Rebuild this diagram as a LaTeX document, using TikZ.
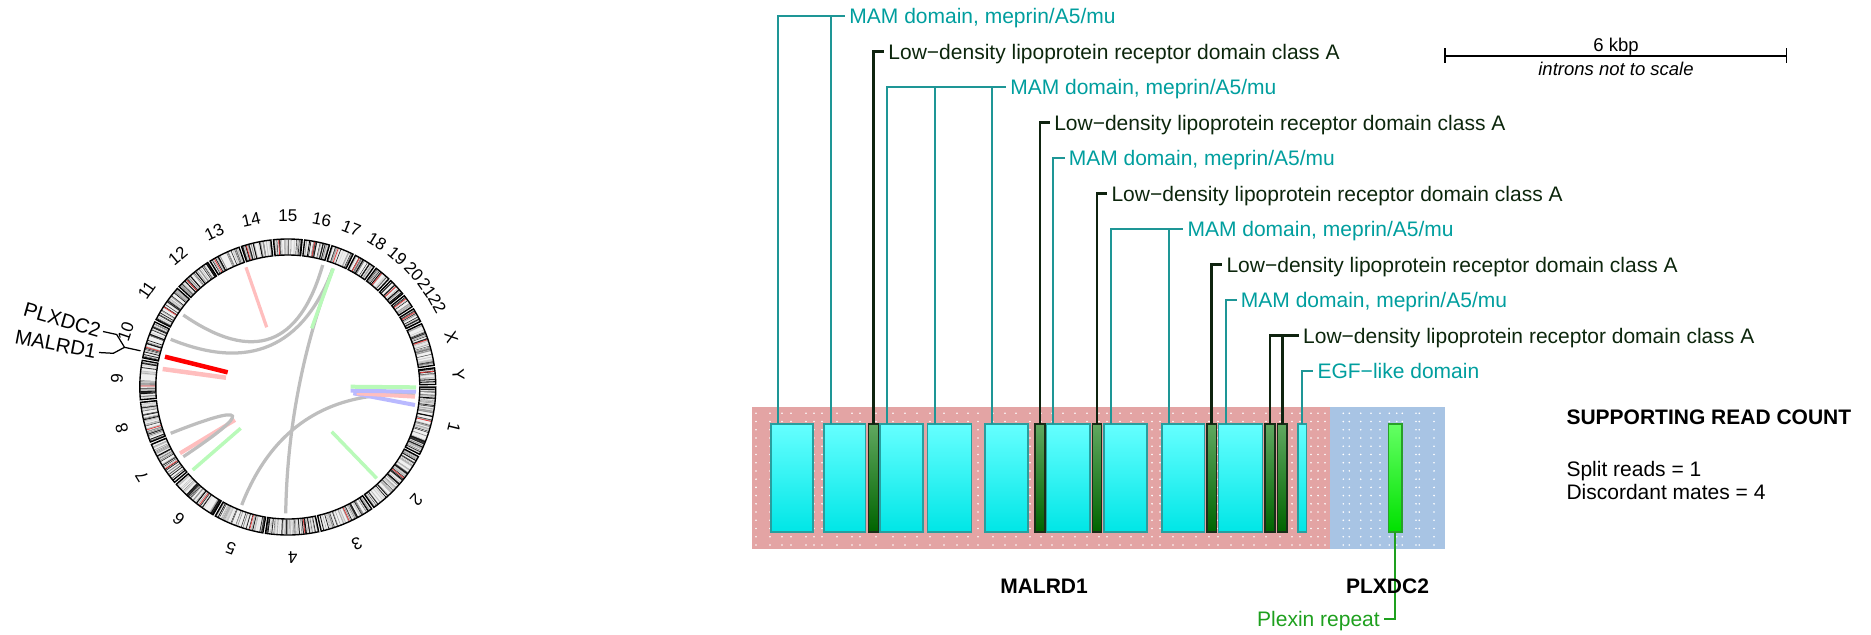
\documentclass[tikz,border=0pt]{standalone}
\usepackage{fontspec}
\setmainfont{Liberation Sans}
\usetikzlibrary{calc}
\definecolor{tealtxt}{RGB}{0,158,158}
\definecolor{tealln}{RGB}{30,150,150}
\definecolor{darktxt}{RGB}{12,38,12}
\definecolor{darkln}{RGB}{15,35,15}
\definecolor{bandpink}{RGB}{227,164,164}
\definecolor{bandblue}{RGB}{168,196,228}
\definecolor{cyantop}{RGB}{102,255,255}
\definecolor{cyanbot}{RGB}{0,230,230}
\definecolor{cyanbd}{RGB}{40,158,158}
\definecolor{dgtop}{RGB}{96,168,96}
\definecolor{dgbot}{RGB}{0,100,0}
\definecolor{dgbd}{RGB}{25,45,25}
\definecolor{bgtop}{RGB}{100,255,100}
\definecolor{bgbot}{RGB}{0,225,0}
\definecolor{bgbd}{RGB}{40,160,40}
\definecolor{plexgreen}{RGB}{30,160,30}
\definecolor{lnkgray}{RGB}{190,190,190}
\definecolor{lnkpink}{RGB}{255,190,190}
\definecolor{lnkgreen}{RGB}{185,250,185}
\definecolor{lnkblue}{RGB}{185,185,255}
\definecolor{acen}{RGB}{230,60,60}
\tikzset{
  lbl/.style={font=\fontsize{8.4}{10}\selectfont, inner xsep=1.5pt, inner ysep=0pt,
    text height=7.73pt, text depth=1.68pt, anchor=west},
  mamlbl/.style={lbl, text=tealtxt},
  ldllbl/.style={lbl, text=darktxt},
  tl/.style={draw=tealln, line width=0.8pt},
  dl/.style={draw=darkln, line width=0.9pt},
  boxbase/.style={inner sep=0pt, outer sep=0pt, minimum height=43.08pt, line width=0.65pt},
  cbox/.style={boxbase, draw=cyanbd, top color=cyantop, bottom color=cyanbot},
  dbox/.style={boxbase, draw=dgbd, top color=dgtop, bottom color=dgbot},
  gbox/.style={boxbase, draw=bgbd, top color=bgtop, bottom color=bgbot},
  boldtxt/.style={font=\bfseries\fontsize{8.4}{10}\selectfont, inner sep=0pt},
  plaintxt/.style={font=\fontsize{8.4}{10}\selectfont, inner sep=0pt},
  smalltxt/.style={font=\fontsize{7.4}{9}\selectfont, inner sep=0pt},
  chrlbl/.style={font=\fontsize{6.8}{8}\selectfont, inner sep=0pt},
  genelbl/.style={font=\fontsize{8.1}{9}\selectfont, inner sep=1pt},
  glink/.style={draw=lnkgray, line width=1.3pt},
}
\newcommand\gbx[4]{\node[#1, minimum width={(#4-#3)*0.4pt}] (#2) at ({(#3+#4)/2},477.85) {};}
\newcommand\qlink[2]{\draw[glink] (#1) .. controls ($(#1)!0.6667!(ctr)$) and ($(#2)!0.6667!(ctr)$) .. (#2);}
\begin{document}
\begin{tikzpicture}[x=0.4pt, y=-0.4pt]
\useasboundingbox (0,0) rectangle (1871,634);

% ---------------- circos ideogram ----------------
\pgfmathsetseed{12}
\begin{scope}[shift={(287.8,387)}, x=0.4pt, y=0.4pt]
\foreach \cn/\cst/\cspn/\ccf in {1/0/27.053/0.50, 2/28.053/26.397/0.38, 3/55.450/21.493/0.46,
  4/77.943/20.747/0.26, 5/99.690/19.637/0.27, 6/120.327/18.573/0.35, 7/139.900/17.273/0.37,
  8/158.173/15.886/0.31, 9/175.058/15.327/0.35, 10/191.385/14.710/0.29, 11/207.095/14.654/0.39,
  12/222.749/14.528/0.27, 13/238.277/12.500/0.15, 14/251.778/11.652/0.16, 15/264.429/11.128/0.18,
  16/276.558/9.807/0.40, 17/287.364/8.813/0.30, 18/297.178/8.475/0.22, 19/306.652/6.418/0.45,
  20/314.070/6.841/0.44, 21/321.911/5.224/0.26, 22/328.135/5.568/0.25, X/334.703/16.853/0.39,
  Y/352.556/6.444/0.20}{
  \pgfmathsetmacro\aa{-\cst}
  \pgfmathsetmacro\bb{-\cst-\cspn}
  \fill[black!6] (\aa:132) arc[start angle=\aa, end angle=\bb, radius=52.8pt] -- (\bb:148)
     arc[start angle=\bb, end angle=\aa, radius=59.2pt] -- cycle;
  \pgfmathtruncatemacro\nstr{\cspn*2.4}
  \foreach \j in {1,...,\nstr}{
    \pgfmathsetmacro\ang{-\cst-rnd*\cspn}
    \pgfmathtruncatemacro\gv{rnd<0.42 ? 80+rnd*20 : 10+rnd*35}
    \pgfmathsetmacro\lw{0.12+0.35*rnd}
    \draw[black!\gv, line width=\lw pt] (\ang:132.5) -- (\ang:147.5);
  }
  \pgfmathsetmacro\ra{-\cst-\ccf*\cspn}
  \draw[acen, line width=0.3pt] (\ra:132.5) -- (\ra:147.5);
  \draw[line width=0.55pt] (\aa:132) arc[start angle=\aa, end angle=\bb, radius=52.8pt] -- (\bb:148)
     arc[start angle=\bb, end angle=\aa, radius=59.2pt] -- cycle;
  \pgfmathsetmacro\md{-\cst-\cspn/2}
  \node[chrlbl, rotate=\md-90] (chr\cn) at (\md:171) {\cn};
}
\end{scope}

% ---------------- circos links ----------------
\coordinate (ctr) at (287.8,387);
\coordinate (la1) at (183.3,315);   \coordinate (la2) at (322.7,265);
\coordinate (lb1) at (170.7,339.3); \coordinate (lb2) at (332.7,269.3);
\coordinate (lc1) at (332.7,269.3); \coordinate (lc2) at (285.7,513.3);
\coordinate (ld1) at (241.7,505);   \coordinate (ld2) at (415,395);
\coordinate (le1) at (170.7,433.3); \coordinate (le2) at (183.3,456.7);

\draw[lnkpink, line width=1.6pt] (180,453.3) -- (235,420);
\qlink{la1}{la2}
\qlink{lb1}{lb2}
\qlink{lc1}{lc2}
\qlink{ld1}{ld2}
\qlink{le1}{le2}
\draw[lnkpink, line width=1.3pt] (246,267.3) -- (266.7,327.3);
\draw[lnkpink, line width=1.8pt] (162.7,369) -- (226,377.7);
\draw[red, line width=1.8pt] (165,356.7) -- (227.7,372.3);
\draw[lnkgreen, line width=1.4pt] (333.3,268.3) -- (311.7,328.3);
\draw[lnkgreen, line width=1.4pt] (192.7,470) -- (240.7,428.3);
\draw[lnkgreen, line width=1.4pt] (331.7,431.7) -- (376.7,478.3);
\draw[lnkblue, line width=1.6pt] (353.3,393.3) -- (415,405);
\draw[lnkpink, line width=1.6pt] (356.7,393.3) -- (415,396.7);
\draw[lnkblue, line width=1.6pt] (350.7,390.7) -- (416,391.7);
\draw[lnkgreen, line width=1.6pt] (350.7,386.7) -- (416,387.3);

% gene labels on circos
\coordinate (gp) at (140.5,350.8);
\node[genelbl, anchor=east, rotate=-16] (lp) at (103,331.5) {PLXDC2};
\node[genelbl, anchor=east, rotate=-11] (lm) at (99,352.5) {MALRD1};
\draw[line width=0.5pt] (lp.east) -- (116.7,334.5) -- (124.5,347.3) -- (gp);
\draw[line width=0.5pt] (lm.east) -- (113.3,353.3) -- (124.5,347.3);

% ---------------- gene track ----------------
\fill[bandpink] (751.6,406.8) rectangle (1330,549.3);
\fill[bandblue] (1330,406.8) rectangle (1445,549.3);
\foreach \x in {756,770,782,791,806,814,822,837,852,860,876,893,905,917,930,944,957,968,978,993,1005,1016,1030,1041,1052,1063,1075,1087,1099,1107,1120,1131,1143,1152,1160,1173,1183,1196,1209,1218,1231,1243,1254,1266,1280,1292,1300,1311,1318,1325,1343.3,1349.3,1360.7,1371,1380,1389.3,1396.7,1402.3,1416,1419.3,1434}
  \foreach \k in {0,...,16}
    \fill[white] (\x,{413.3+8.23*\k}) circle[radius=0.36pt];

\gbx{cbox}{c1}{770.7}{812.8}
\gbx{cbox}{c2}{824.2}{865.3}
\gbx{dbox}{d1}{868.3}{878.5}
\gbx{cbox}{c3}{879.7}{922.9}
\gbx{cbox}{c4}{927.6}{971.6}
\gbx{cbox}{c5}{985.0}{1027.9}
\gbx{dbox}{d2}{1034.7}{1045.1}
\gbx{cbox}{c6}{1046.3}{1090.2}
\gbx{dbox}{d3}{1092.5}{1101.5}
\gbx{cbox}{c7}{1104.0}{1146.8}
\gbx{cbox}{c8}{1162.2}{1204.3}
\gbx{dbox}{d4}{1207.0}{1216.5}
\gbx{cbox}{c9}{1218.4}{1262.4}
\gbx{dbox}{d5}{1265.2}{1275.1}
\gbx{dbox}{d6}{1277.3}{1287.2}
\gbx{cbox}{c10}{1298.0}{1306.3}
\gbx{gbox}{g1}{1388.3}{1401.7}

% domain labels
\node[mamlbl] (m1) at (845.2,16) {MAM domain, meprin/A5/mu};
\node[ldllbl] (m2) at (884.2,51.5) {Low−density lipoprotein receptor domain class A};
\node[mamlbl] (m3) at (1006,87) {MAM domain, meprin/A5/mu};
\node[ldllbl] (m4) at (1050,122.5) {Low−density lipoprotein receptor domain class A};
\node[mamlbl] (m5) at (1064.5,158) {MAM domain, meprin/A5/mu};
\node[ldllbl] (m6) at (1107.3,193.5) {Low−density lipoprotein receptor domain class A};
\node[mamlbl] (m7) at (1183.3,229) {MAM domain, meprin/A5/mu};
\node[ldllbl] (m8) at (1222.3,264.5) {Low−density lipoprotein receptor domain class A};
\node[mamlbl] (m9) at (1236.7,300) {MAM domain, meprin/A5/mu};
\node[ldllbl] (m10) at (1298.9,335.5) {Low−density lipoprotein receptor domain class A};
\node[mamlbl] (m11) at (1313.3,371) {EGF−like domain};
\node[lbl, text=plexgreen, anchor=east] (pl) at (1384,619) {Plexin repeat};

\draw[tl] (777.5,0 |- c1.north) |- (m1.west);
\draw[tl] (830.7,0 |- c2.north) -- (830.7,0 |- m1.west);
\draw[dl] (873.6,0 |- d1.north) |- (m2.west);
\draw[tl] (887,0 |- c3.north) |- (m3.west);
\draw[tl] (935.2,0 |- c4.north) -- (935.2,0 |- m3.west);
\draw[tl] (991.5,0 |- c5.north) -- (991.5,0 |- m3.west);
\draw[dl] (1039.7,0 |- d2.north) |- (m4.west);
\draw[tl] (1053,0 |- c6.north) |- (m5.west);
\draw[dl] (1097.1,0 |- d3.north) |- (m6.west);
\draw[tl] (1111.3,0 |- c7.north) |- (m7.west);
\draw[tl] (1168.7,0 |- c8.north) -- (1168.7,0 |- m7.west);
\draw[dl] (1211.6,0 |- d4.north) |- (m8.west);
\draw[tl] (1225.7,0 |- c9.north) |- (m9.west);
\draw[dl] (1270.1,0 |- d5.north) |- (m10.west);
\draw[dl] (1282.4,0 |- d6.north) -- (1282.4,0 |- m10.west);
\draw[tl] (1302.3,0 |- c10.north) |- (m11.west);
\draw[draw=plexgreen, line width=0.8pt] (1395,0 |- g1.south) |- (pl.east);

% gene names
\node[boldtxt, anchor=base] (gmal) at (1044,593) {MALRD1};
\node[boldtxt, anchor=base] (gplx) at (1387.5,593) {PLXDC2};

% scale bar
\coordinate (sb1) at (1445,56);
\coordinate (sb2) at (1786.7,56);
\draw[line width=0.6pt] (sb1) -- (sb2);
\draw[line width=0.6pt] (1445,48.3) -- (1445,63.3);
\draw[line width=0.6pt] (1786.7,48.3) -- (1786.7,63.3);
\node[smalltxt, anchor=base] (kbp) at (1616,51) {6 kbp};
\node[smalltxt, anchor=base, font=\itshape\fontsize{7.4}{9}\selectfont] (intr) at (1616,75) {introns not to scale};

% read counts
\node[boldtxt, anchor=base west] (src) at (1566,424) {SUPPORTING READ COUNT};
\node[plaintxt, anchor=base west] (spl) at (1566,476.5) {Split reads = 1};
\node[plaintxt, anchor=base west] (dis) at (1566,499.5) {Discordant mates = 4};
\end{tikzpicture}
\end{document}
